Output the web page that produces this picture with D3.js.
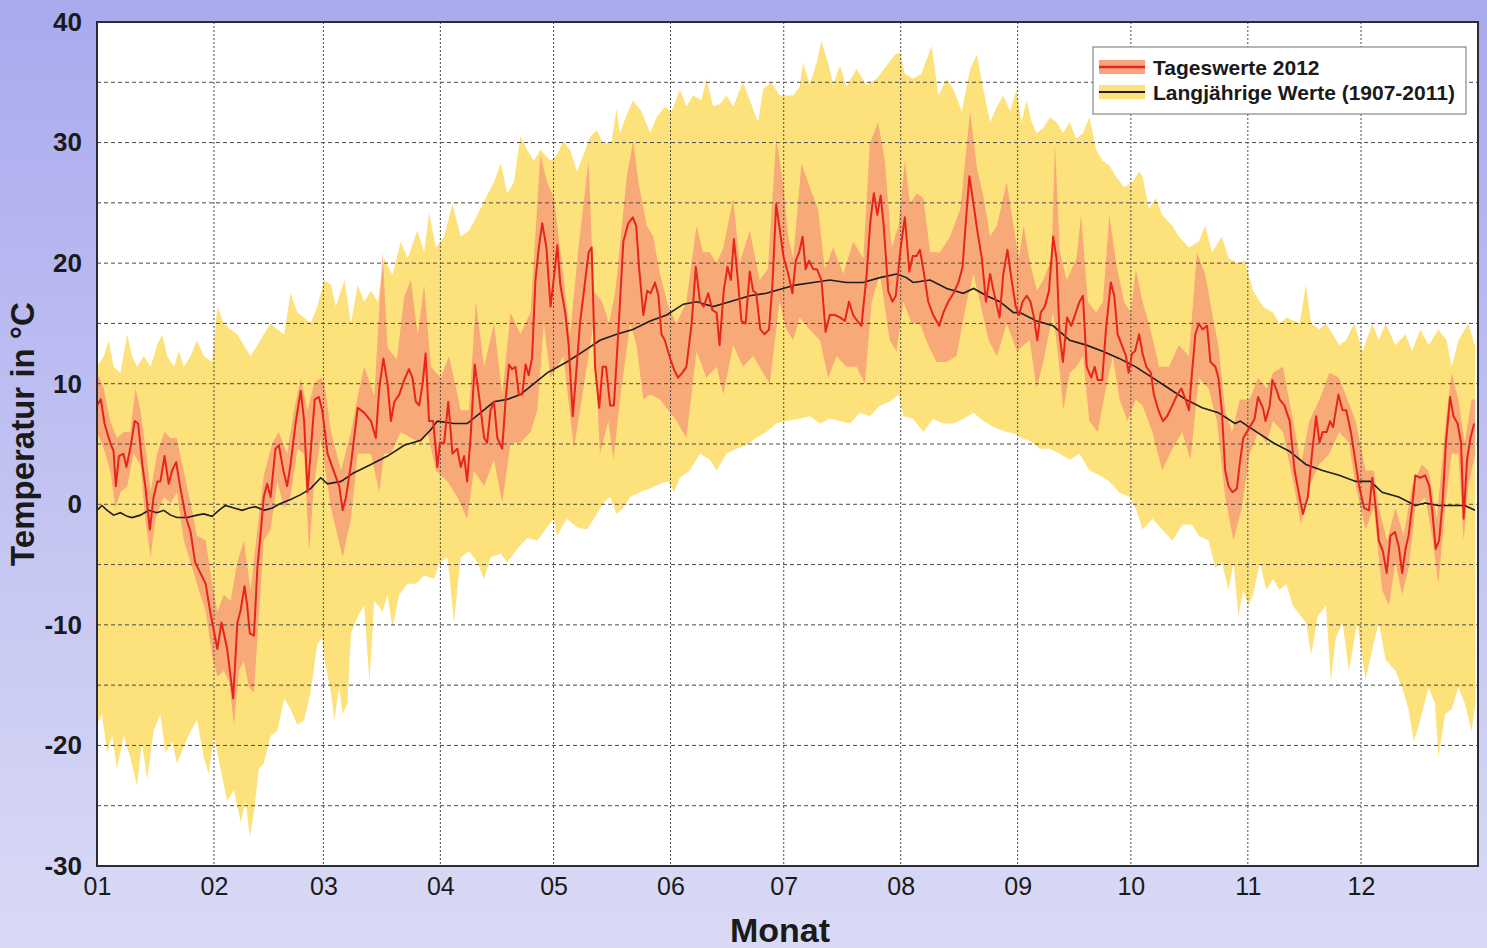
<!DOCTYPE html>
<html>
<head>
<meta charset="utf-8">
<script src="https://cdn.jsdelivr.net/npm/d3@7/dist/d3.min.js"></script>
<style>
    html, body { margin: 0; padding: 0; }
    body { width: 1487px; height: 948px; overflow: hidden; }
    svg { display: block; font-family: "Liberation Sans", Arial, sans-serif; }
</style>
</head>
<body>
<svg id="chart" width="1487" height="948"></svg>
<script>
// Month tick labels (ticks at the first day of each month, 2012 is a leap year)
const monthLabels = ["01", "02", "03", "04", "05", "06", "07", "08", "09", "10", "11", "12"];
const monthStartDays = [0, 31, 60, 91, 121, 152, 182, 213, 244, 274, 305, 335];
const yTickValues = [-30, -20, -10, 0, 10, 20, 30, 40];

// Tageswerte 2012: daily mean [day of year, °C]
const mean2012 = [
    [0,8.2],[1,8.7],[2,6.7],[3.5,5.1],[4.4,4.4],[5,1.5],[5.8,4.0],[7,4.2],[7.8,3.1],[8.8,4.6],[10,6.9],[10.9,6.7],
    [12,3.3],[12.8,1.5],[14,-2.1],[15,0.6],[16,1.9],[16.8,1.9],[17.9,4.0],[19,1.7],[19.9,2.8],[21,3.5],[22,1.5],
    [23.5,-1.0],[24.8,-2.3],[26,-4.8],[27.4,-5.7],[28.8,-6.6],[30,-8.9],[31.9,-12.0],[33,-9.8],[34.5,-12.0],
    [36.1,-16.1],[37.2,-9.8],[38,-8.9],[39.1,-6.8],[39.8,-8.4],[40.5,-10.7],[41.6,-10.9],[42.5,-5.3],[43.4,-2.3],
    [44.2,0.6],[45.1,1.7],[46,0.6],[47.3,4.6],[48.2,4.9],[49.4,2.8],[50.4,1.5],[51.3,3.3],[52.7,6.9],[54,9.4],
    [54.9,6.9],[55.8,1.0],[56.6,4.2],[57.7,8.7],[58.8,8.9],[59.7,7.8],[61.1,4.2],[62.9,2.6],[64.2,1.5],[65.1,-0.5],
    [66,0.6],[67.3,3.3],[69.1,8.0],[70.8,7.6],[72.6,6.9],[73.9,5.5],[74.8,9.6],[75.9,12.1],[77,10.0],[77.9,6.9],
    [78.8,8.5],[80.1,9.1],[81.4,10.3],[82.7,11.2],[83.6,10.5],[84.5,8.5],[85.4,8.2],[86.3,10.0],[87.1,12.5],[88,6.9],
    [89.1,6.9],[90.2,3.1],[90.9,5.1],[92,5.1],[93.1,8.5],[94.2,4.2],[95.5,4.6],[96.4,3.1],[97.3,4.0],[98.1,1.9],
    [99,5.5],[100.1,11.6],[101.2,9.1],[102.6,5.5],[103.4,5.1],[104.3,7.8],[105.2,8.5],[106.1,5.5],[107.4,4.6],
    [108.3,8.7],[109.2,11.6],[110,11.2],[110.9,11.4],[111.8,9.1],[112.7,9.1],[113.6,11.6],[114.4,10.7],[115.3,12.1],
    [116.2,18.6],[117.1,21.3],[118,23.3],[119.1,21.3],[120.2,16.4],[121.2,19.1],[122,21.5],[122.8,18.2],[124.1,15.9],
    [125,13.2],[126.1,7.3],[127,10.9],[128,15.0],[129.4,18.6],[130.3,20.9],[131.1,21.3],[132,11.4],[133.1,8.0],
    [134,11.4],[134.9,11.4],[136,8.2],[137,8.2],[138.2,14.5],[139.5,21.8],[140.8,23.3],[142,23.8],[142.9,23.1],
    [143.7,19.5],[144.8,15.7],[145.8,17.7],[146.7,17.5],[147.9,18.4],[148.8,17.3],[149.6,14.1],[150.5,13.6],
    [151.7,12.3],[152.9,11.2],[154,10.5],[155.1,10.9],[156.2,11.4],[157.6,15.0],[158.7,19.7],[159.8,16.8],
    [160.8,16.4],[162,17.5],[163.1,16.1],[164.2,15.9],[165,13.2],[166.1,17.7],[167.1,19.7],[168,18.6],[168.8,22.0],
    [169.7,19.1],[170.8,15.2],[171.9,15.0],[173,19.3],[173.9,17.7],[174.7,17.5],[175.8,14.5],[176.9,14.1],
    [178.1,14.5],[179,18.2],[180,24.9],[181,22.7],[181.9,20.6],[183.2,19.1],[184.3,17.5],[185.2,20.2],[186.1,20.9],
    [187,22.2],[187.8,19.5],[188.7,20.2],[189.8,19.5],[190.8,19.5],[192,18.6],[193.1,14.3],[194.2,15.7],[195.5,15.7],
    [196.9,15.5],[198.2,15.2],[199.3,16.8],[200.4,15.7],[201.5,15.2],[202.6,14.8],[203.9,18.8],[205,23.6],
    [205.9,25.8],[206.8,24.0],[207.7,25.6],[208.5,23.1],[209.7,17.7],[210.8,16.8],[211.7,17.3],[213,21.3],
    [214.1,23.8],[215.3,19.3],[216.2,20.6],[217.2,20.6],[218.1,21.1],[219.2,19.1],[220.3,16.8],[221.6,15.7],
    [223.2,14.8],[224.3,15.9],[225.6,16.8],[227,17.5],[228.3,18.4],[229.4,19.7],[230.3,23.6],[231.2,27.2],
    [232.3,24.9],[233.3,22.7],[234.5,20.4],[235.6,16.8],[236.7,19.1],[237.6,17.7],[239.2,15.5],[240.2,19.1],
    [241.3,21.1],[242.4,18.6],[243.5,16.4],[244.4,15.7],[245.3,16.8],[246.4,17.3],[247.4,16.8],[248.3,15.5],
    [249.2,13.6],[250.1,15.9],[251.2,16.4],[252.3,17.7],[253.4,22.2],[254.3,20.4],[255.1,14.1],[256,11.8],
    [257.1,15.5],[258.2,14.8],[259.4,15.9],[260.4,16.8],[261.3,17.3],[262.3,11.4],[263.5,10.5],[264.4,11.4],
    [265.2,10.3],[266.4,10.3],[267.4,14.5],[268.7,18.4],[269.6,17.3],[270.5,14.1],[271.6,13.2],[272.7,12.3],
    [273.4,10.9],[274.3,12.5],[275.1,12.7],[276.2,14.1],[277.1,12.5],[278.1,11.4],[279.3,10.9],[280.1,9.1],
    [281.3,7.8],[282.5,6.9],[283.6,7.3],[285,8.2],[286.3,9.1],[287.4,9.6],[288.5,8.7],[289.4,7.8],[290.2,10.9],
    [291.1,14.1],[292,15.0],[293,14.5],[294.2,14.8],[295.1,11.8],[296.4,11.4],[297.2,10.5],[298.1,7.8],[299,2.8],
    [299.9,1.5],[300.9,1.0],[302.1,1.3],[302.9,3.5],[303.8,5.5],[305.5,6.4],[306.8,7.1],[307.7,8.9],[309,8.0],
    [309.7,6.9],[310.8,8.2],[311.5,10.3],[312.5,9.6],[313.4,8.7],[314.7,8.2],[316.1,6.9],[317.4,2.8],[318.7,0.6],
    [319.6,-0.8],[320.9,0.6],[322,4.2],[323.1,7.3],[324,5.1],[324.8,6.0],[325.9,6.0],[326.8,6.9],[327.6,6.4],
    [329,9.1],[330.1,7.8],[331.1,7.8],[332.3,6.0],[333.2,4.2],[334.5,1.5],[335.8,-0.3],[337.1,-0.5],[338,2.2],
    [338.9,-0.3],[339.7,-3.0],[340.8,-3.9],[341.8,-5.7],[342.8,-2.6],[344,-2.3],[345,-3.5],[345.9,-5.7],[346.8,-3.7],
    [347.6,-2.6],[348.5,-0.3],[349.4,2.4],[350.7,2.2],[352,2.4],[353.1,1.5],[353.8,-0.3],[354.8,-3.7],[355.7,-3.0],
    [356.6,0.1],[357.5,5.1],[358.6,8.9],[359.5,7.3],[360.6,6.7],[361.5,5.1],[362.2,-1.2],[363.1,3.7],[364,5.5],
    [365,6.7]
];

// Tageswerte 2012: daily maximum and minimum (orange band)
const max2012 = [
    [0,10.9],[1.8,9.6],[3.5,6.9],[5.3,5.5],[7.1,6.0],[8.8,6.0],[10.2,9.6],[11.5,7.8],[13.3,3.7],[14.2,1.0],[15.9,4.2],
    [17.9,6.0],[19.5,5.5],[21.1,5.5],[22.6,3.3],[24.8,0.1],[26.5,-2.6],[28.8,-3.0],[30.1,-5.7],[31.9,-8.9],[33.6,-7.5],
    [35.4,-8.0],[37.2,-4.8],[38.9,-3.0],[40.7,-7.1],[42.5,-2.1],[44.2,2.4],[46.5,5.1],[48.2,6.0],[50.4,4.2],[52.2,7.8],
    [54,10.5],[55.8,7.8],[57.5,10.0],[59.3,10.5],[60.3,10.0],[62,6.0],[64.7,2.8],[67.3,6.0],[69.1,9.0],[70.8,11.4],
    [73.5,9.0],[75.7,21.0],[77,13.0],[79.5,12.0],[81.4,17.2],[83.2,18.6],[85,14.0],[86.7,18.2],[88.5,11.4],[91.1,10.5],
    [93.3,12.3],[96.4,7.8],[98.6,7.8],[100.4,16.8],[102.6,11.4],[105.2,15.0],[107.4,9.1],[109.6,15.9],[112.2,14.1],
    [114.9,15.9],[117.5,29.0],[119.3,26.7],[121.1,25.4],[122.7,21.3],[125.4,14.1],[127.6,21.3],[130.3,28.5],
    [131.6,17.7],[133.9,16.8],[135.7,15.0],[137.4,17.7],[140.4,27.2],[142.1,30.1],[143.5,26.7],[145.7,23.1],
    [147.4,22.2],[149.2,19.1],[151.4,16.4],[153.6,15.0],[156.2,16.8],[158.9,23.1],[160.6,20.9],[162.4,20.9],
    [164.2,20.0],[166,21.3],[168.6,25.4],[170.3,20.0],[173,22.7],[175.6,18.6],[177.8,19.5],[180,30.3],[181.8,26.7],
    [183.2,22.2],[184.5,20.4],[186.7,28.3],[188.9,26.3],[191.1,24.5],[192.9,19.5],[195.1,21.3],[197.8,19.1],
    [200.4,21.8],[203.1,20.4],[204.8,29.9],[207,31.7],[208.8,28.5],[210.6,21.3],[212.4,23.1],[214.1,28.5],
    [215.5,24.9],[217.2,25.8],[219,25.4],[220.8,20.9],[223.4,20.9],[226.1,22.2],[228.8,24.5],[231.4,32.6],
    [233.2,27.9],[235,25.4],[236.7,22.2],[238.5,23.1],[241.1,26.7],[242.9,23.1],[244.3,20.4],[245.6,23.1],
    [247.3,20.0],[249.1,17.7],[250.8,18.6],[253,20.4],[253.9,29.9],[255.2,20.9],[257,18.6],[259.6,20.4],[260.8,24.0],
    [262.6,16.8],[264.8,15.9],[266.6,16.8],[268.3,24.0],[270.1,20.0],[272.2,16.8],[274,15.9],[275.3,19.5],
    [277.1,16.8],[278.8,15.0],[281.5,11.4],[284.1,11.4],[286.7,13.2],[289.4,12.3],[291.5,20.9],[293.7,19.1],
    [295.5,15.9],[297.2,13.2],[299,7.8],[300.8,6.0],[302.9,8.7],[305.5,8.7],[307.7,10.5],[310,9.6],[311.7,10.9],
    [314.3,11.4],[317,6.9],[319.1,3.3],[321.3,6.9],[324,8.7],[326.6,10.9],[329.2,10.5],[331.4,8.7],[333.6,6.9],
    [336.2,2.8],[338.4,2.8],[339.7,-0.3],[341.9,-3.0],[344.1,-0.3],[346.3,-2.6],[348.5,1.5],[351.1,3.3],[352.9,2.8],
    [355.1,-1.2],[357.3,6.4],[359,10.9],[360.8,8.7],[362.5,5.1],[364.3,8.7],[365.3,8.7]
];
const min2012 = [
    [0,6.0],[1.8,4.6],[3.5,2.8],[4.9,-0.3],[6.2,1.0],[8,1.5],[9.7,4.2],[11.5,3.3],[12.8,-1.2],[14.2,-4.4],[15.5,-1.2],
    [17.7,0.6],[19.5,0.1],[21.2,1.0],[23,-3.0],[24.8,-4.8],[26.5,-6.6],[28.8,-8.9],[30.5,-12.5],[31.9,-14.3],
    [33.6,-13.8],[35,-14.7],[36.3,-18.3],[37.6,-13.8],[38.9,-13.0],[40.3,-15.2],[41.6,-15.6],[42.9,-9.3],[44.2,-3.0],
    [46,-2.1],[47.8,1.9],[49.6,-0.3],[51.3,0.6],[53.1,4.6],[54.9,4.2],[56.2,-3.9],[57.5,1.5],[59.3,5.5],[62,-0.3],
    [65.1,-4.4],[67.3,-1.2],[69.1,4.2],[72.6,4.2],[74.8,1.0],[76.1,4.2],[77.9,4.2],[80.5,6.0],[83.2,5.5],[85.8,5.1],
    [87.6,6.0],[89.8,2.8],[92.9,1.9],[95.5,0.6],[98.1,-1.2],[99.9,2.8],[102.6,1.5],[105.2,3.7],[107.4,0.1],[109.6,5.1],
    [112.2,5.1],[114.9,6.0],[116.7,7.8],[118.4,15.0],[120.2,10.5],[122,11.4],[123.6,12.3],[126.4,4.6],[128.9,9.6],
    [131.6,15.0],[133.3,4.2],[135.5,6.9],[136.9,3.7],[138.6,8.7],[141.3,15.0],[143,13.2],[144.8,8.7],[146.6,9.1],
    [149.2,8.7],[151.4,7.8],[153.6,6.9],[156.2,5.5],[158.9,12.7],[161.5,10.5],[164.2,11.4],[166,9.1],[168.6,13.2],
    [171.2,11.4],[173.9,12.3],[176.5,10.9],[178.3,10.0],[180.9,16.8],[182.7,14.5],[184.5,13.6],[186.2,15.5],
    [188.9,14.5],[191.6,13.6],[193.8,10.5],[196,12.3],[198.6,11.4],[201.3,11.4],[203.5,10.0],[205.3,16.8],
    [207.5,19.1],[210.1,13.6],[211.9,12.7],[213.7,16.8],[215.9,15.0],[218.1,15.0],[220.3,13.2],[222.5,11.8],
    [225.2,11.8],[227.8,12.3],[230.5,16.8],[232.3,19.1],[234,16.8],[236.3,13.6],[238.5,12.3],[241.1,15.0],
    [243.8,12.7],[245.5,13.2],[247.2,13.6],[249,9.6],[250.8,11.8],[253.4,15.9],[255.2,10.9],[256.1,7.8],[257.8,10.9],
    [259.6,11.4],[261.3,12.3],[263,6.9],[265.2,6.0],[267.4,9.6],[269.2,12.3],[271,8.7],[273.1,6.9],[275.3,8.7],
    [277.1,8.2],[279.7,6.0],[282.3,2.8],[285,4.6],[287.6,6.0],[289.8,3.7],[292,10.5],[294.6,9.6],[296.8,6.9],
    [299,0.6],[301.2,-3.0],[303.4,-0.3],[305.5,4.2],[307.7,6.0],[309.9,5.1],[311.7,6.9],[314.3,6.0],[317,1.9],
    [319.1,-1.7],[321.3,1.5],[323.9,3.3],[326.6,4.2],[329.2,6.0],[331.8,5.1],[333.6,1.5],[336.2,-2.1],[338.4,-0.3],
    [340.6,-7.1],[342.4,-8.4],[344.1,-4.8],[345.9,-7.5],[347.6,-5.3],[349.4,-0.3],[352,0.6],[353.8,-2.6],
    [355.5,-6.6],[357.3,-0.3],[359,4.2],[360.8,4.2],[362.2,-3.0],[363.4,1.5],[365.3,4.2]
];

// Langjährige Werte 1907-2011: mean, absolute maximum and minimum
const meanLongTerm = [
    [0,-0.5],[1.3,-0.1],[2.7,-0.5],[4.4,-0.9],[6.2,-0.7],[8,-1.0],[9.3,-1.1],[11.5,-0.9],[13.7,-0.5],[15.9,-0.7],
    [17.7,-0.5],[19.5,-0.9],[21.2,-1.1],[23.9,-1.1],[26.5,-0.9],[28.3,-0.8],[30.5,-1.0],[32.3,-0.5],[34,-0.1],
    [36.3,-0.3],[38.5,-0.5],[40.3,-0.3],[42,-0.2],[44.2,-0.5],[46.5,-0.3],[48.2,0.0],[51.3,0.4],[54,0.8],[56.6,1.3],
    [59.3,2.2],[61.1,1.7],[64.7,1.9],[68,2.6],[72.6,3.3],[77,4.0],[81.4,4.9],[85.8,5.3],[88.5,6.2],[90.2,6.9],
    [94.6,6.7],[98.1,6.7],[101.7,7.6],[105.2,8.5],[108.7,8.7],[112.2,9.1],[115.8,10.0],[119.3,10.9],[124.5,11.8],
    [129,12.7],[133.3,13.6],[137.7,14.1],[142,14.5],[146.6,15.2],[151,15.7],[155.4,16.6],[158.9,16.8],[163.3,16.4],
    [167.7,16.8],[173,17.3],[177.4,17.5],[181.8,17.9],[185.4,18.2],[189.8,18.4],[194.2,18.6],[198.6,18.4],
    [203,18.4],[207.5,18.8],[211.9,19.1],[214.5,18.8],[216.3,18.4],[220.8,18.6],[225.2,17.9],[229.6,17.5],
    [232.3,17.9],[235.8,17.3],[239.3,16.8],[242.9,15.9],[244.6,15.9],[249,15.2],[253.4,14.8],[257.8,13.6],
    [262.2,13.2],[266.5,12.7],[270.9,12.1],[275.3,11.4],[279.7,10.5],[284.1,9.6],[288.5,8.7],[292.9,8.0],
    [297.2,7.6],[301.6,6.7],[303,6.9],[307.3,6.0],[311.7,5.1],[316,4.4],[320.4,3.3],[324.8,2.8],[329.2,2.4],
    [333.6,1.9],[337.5,1.9],[340.6,1.0],[345,0.6],[349.4,-0.1],[352,0.1],[355.5,-0.1],[359,-0.1],[362.5,-0.1],
    [365.2,-0.5]
];
const maxLongTerm = [
    [0,11.4],[1.8,12.3],[3.1,13.6],[4.4,11.4],[6.2,10.9],[8,14.1],[9.3,12.3],[10.6,11.4],[12.4,12.3],[14.2,11.4],
    [15.9,13.2],[17.3,14.1],[18.6,12.3],[20.4,11.4],[21.7,12.7],[23,11.4],[24.8,12.3],[26.5,13.6],[28.3,12.3],
    [30.5,11.8],[31.9,16.4],[33.6,15.0],[35.4,14.5],[37.2,14.1],[38.9,13.2],[40.7,12.3],[42.5,13.2],[44.2,14.1],
    [46,15.0],[47.8,14.5],[49.6,14.1],[51.3,17.5],[53.1,15.9],[54.9,15.5],[56.6,15.0],[58.4,16.4],[60.2,18.6],
    [62,18.2],[63.3,16.4],[65.6,18.6],[67.3,15.0],[69.1,18.2],[70.8,16.8],[72.6,17.7],[74.4,16.8],[76.1,20.4],
    [78.3,19.0],[80.5,21.8],[82.3,20.4],[84.9,22.7],[86.7,20.9],[88,24.2],[89.8,21.3],[92,22.2],[94.2,24.9],
    [96.4,22.2],[98.6,22.7],[100.8,24.0],[103,25.4],[105.2,26.7],[107,28.3],[108.7,25.8],[110.5,26.7],[112.2,30.5],
    [114,29.4],[115.8,28.5],[117.5,29.4],[120.2,28.5],[121.9,29.0],[123.6,30.1],[125.4,29.4],[127.2,27.6],
    [128.9,29.0],[130.7,30.5],[132.5,31.0],[134.2,29.9],[136.4,30.1],[137.7,32.8],[138.6,30.8],[140.4,32.3],
    [142.1,33.5],[144.3,32.6],[146.6,30.8],[148.3,32.1],[150.5,33.0],[152.3,32.6],[154.5,34.4],[156.2,33.0],
    [158,33.9],[160.2,33.5],[161.5,35.3],[163.3,33.0],[165.1,33.2],[166.8,33.9],[168.6,33.0],[171.2,35.0],
    [173,33.5],[175.2,31.7],[176.5,34.4],[178.7,35.0],[180.9,33.9],[182.7,33.9],[184.5,33.9],[186.2,34.6],
    [187.1,36.6],[188.9,34.8],[190.7,36.6],[192,38.4],[193.8,36.6],[195.1,34.8],[196.9,36.4],[198.6,34.6],
    [201.3,36.1],[203.9,34.8],[206.6,35.3],[209.3,36.4],[211.5,37.3],[212.8,37.5],[214.1,35.7],[216.3,35.3],
    [218.5,35.7],[221.2,38.0],[223,33.9],[225.2,35.3],[227,34.4],[229.2,32.6],[231.4,36.1],[233.2,37.3],
    [234.9,34.4],[236.7,31.7],[238.5,33.0],[240.2,33.9],[242,32.6],[243.7,34.4],[245,31.7],[246.4,33.5],
    [247.7,31.7],[249,30.8],[250.8,31.2],[252.5,32.1],[254.3,31.7],[256,30.8],[257.8,31.7],[259.5,30.3],
    [261.3,30.8],[263,32.1],[264.8,29.4],[266.5,28.5],[268.3,28.1],[270,27.2],[272.2,26.3],[274.4,26.7],
    [276.2,27.6],[277.1,27.2],[278.8,24.5],[280.6,25.4],[282.3,24.0],[285,23.1],[286.7,22.2],[289.4,21.3],
    [292,21.8],[293.7,23.1],[295.5,20.9],[298.1,22.2],[299.9,20.4],[302.5,20.0],[304.2,20.2],[306.4,17.7],
    [309,16.4],[311.7,15.9],[313.4,15.0],[315.2,15.5],[318.7,15.0],[320.4,18.2],[321.8,15.0],[323.9,14.5],
    [325.7,15.0],[327.5,14.1],[329.2,13.2],[331,13.6],[333.2,15.0],[335.4,12.7],[338,15.0],[339.7,13.6],
    [341.5,15.0],[344.1,13.2],[346.8,14.1],[348.5,12.7],[350.7,14.5],[352.9,13.2],[355.5,14.5],[357.7,13.6],
    [359,11.4],[360.8,13.6],[363.4,15.0],[365.2,13.2]
];
const minLongTerm = [
    [0,-18.3],[1.3,-17.4],[2.7,-20.6],[4,-19.2],[5.3,-21.9],[7.1,-19.2],[8.8,-21.0],[10.6,-23.3],[11.9,-19.7],
    [13.3,-22.8],[15,-18.8],[16.8,-17.4],[18.1,-20.6],[19.9,-19.7],[21.2,-21.5],[23,-20.1],[24.8,-18.8],
    [26.5,-17.9],[28.3,-21.0],[29.6,-22.4],[31,-19.2],[32.7,-21.9],[34.5,-24.6],[36.3,-23.7],[38.1,-26.4],
    [39.4,-24.6],[40.5,-27.6],[41.6,-25.5],[42.9,-21.9],[44.2,-21.5],[46,-19.2],[47.8,-18.8],[49.6,-16.1],
    [51.3,-17.0],[53.1,-18.3],[54.9,-17.9],[56.6,-15.6],[58.4,-11.6],[59.7,-11.1],[60.3,-12.9],[62,-15.6],
    [62.9,-17.9],[64.2,-15.2],[65.1,-17.4],[66.4,-16.5],[67.3,-10.7],[69.1,-9.3],[70.8,-8.4],[72.2,-14.7],
    [73.5,-8.0],[75.7,-8.9],[77,-7.5],[78.3,-10.2],[80.1,-7.5],[82.3,-6.6],[84.5,-6.6],[86.7,-5.9],[89.3,-6.2],
    [90.9,-4.8],[92.9,-4.4],[94.6,-9.8],[96.4,-4.4],[98.6,-3.9],[100.8,-4.8],[102.6,-6.2],[104.3,-4.4],[107,-4.1],
    [108.7,-4.8],[111.4,-3.7],[114,-2.8],[116.7,-3.0],[119.3,-1.9],[121.1,-1.2],[121.9,-2.6],[124.5,-1.2],
    [127.2,-1.9],[129.8,-2.1],[132.5,-0.8],[134.2,0.1],[136,0.6],[137.7,-0.8],[139.5,-0.3],[141.3,0.6],[143.9,1.0],
    [146.6,1.3],[149.2,1.7],[151.4,1.9],[152.9,1.0],[154.5,2.2],[157.1,2.8],[159.8,4.2],[162.4,3.7],[164.2,2.8],
    [166.8,4.2],[169.5,4.6],[172.1,4.9],[174.7,5.5],[177.4,6.0],[180,6.7],[182.7,6.9],[186.2,7.1],[188.9,7.3],
    [191.6,6.7],[194.2,7.1],[196.9,6.9],[199.5,6.7],[202.2,7.6],[204.8,7.3],[207.5,8.2],[210.1,8.5],[212.4,9.1],
    [213.7,7.3],[216.3,7.1],[219,6.0],[221.6,7.1],[224.3,6.7],[227,6.7],[229.6,7.1],[232.3,7.6],[234.9,6.9],
    [237.6,6.4],[241.1,6.0],[243.8,5.8],[244.6,5.5],[247.2,5.3],[249.9,4.6],[252.5,4.6],[255.1,4.2],[257.8,3.7],
    [260.4,4.2],[263,2.8],[265.7,2.4],[268.3,1.9],[270.9,1.0],[273.6,0.6],[275.3,-0.3],[277.1,-2.1],[279.7,-1.2],
    [282.3,-2.1],[285,-3.0],[287.6,-1.7],[290.2,-1.7],[292,-2.6],[294.6,-3.0],[296.4,-5.3],[298.1,-4.8],
    [299.9,-7.1],[301.2,-4.8],[302.5,-9.3],[303.8,-7.1],[305.1,-8.4],[306.4,-7.5],[308.2,-4.8],[309.9,-7.1],
    [311.7,-6.2],[313.4,-7.1],[315.2,-6.6],[316.9,-8.4],[319.1,-9.3],[320.4,-9.8],[321.8,-12.5],[323.5,-9.3],
    [325.7,-8.4],[327,-14.7],[328.3,-11.1],[330.1,-9.8],[331.8,-13.8],[334,-9.8],[336.2,-14.6],[338,-12.0],
    [339.7,-9.8],[341.5,-12.9],[344.1,-13.8],[345.9,-15.2],[347.6,-17.0],[349,-19.7],[350.7,-17.9],[352.9,-15.2],
    [354.6,-16.5],[355.5,-21.0],[357.3,-17.4],[359,-17.0],[360.8,-15.2],[362.5,-16.5],[364.3,-18.8],[365.3,-16.5]
];

// Layout
const width = 1487, height = 948;
const margin = { top: 22, right: 9, bottom: 82, left: 97 };
const plotW = width - margin.left - margin.right;
const plotH = height - margin.top - margin.bottom;
const fontFamily = "'Liberation Sans', Arial, sans-serif";

const svg = d3.select("#chart");

// Background gradient
const defs = svg.append("defs");
const bg = defs.append("linearGradient")
    .attr("id", "bg")
    .attr("x1", 0).attr("y1", 0).attr("x2", 0).attr("y2", 1);
bg.append("stop").attr("offset", "0%").attr("stop-color", "#a9aaee");
bg.append("stop").attr("offset", "100%").attr("stop-color", "#dadaf6");

defs.append("clipPath").attr("id", "plot-clip")
    .append("rect").attr("width", plotW).attr("height", plotH);

svg.append("rect")
    .attr("width", width)
    .attr("height", height)
    .attr("fill", "url(#bg)");

// Scales
const x = d3.scaleLinear().domain([0, 366]).range([0, plotW]);
const y = d3.scaleLinear().domain([-30, 40]).range([plotH, 0]);

const g = svg.append("g")
    .attr("transform", `translate(${margin.left},${margin.top})`);

g.append("rect")
    .attr("width", plotW)
    .attr("height", plotH)
    .attr("fill", "#ffffff");

const plot = g.append("g").attr("clip-path", "url(#plot-clip)");

const line = d3.line()
    .x(d => x(d[0]))
    .y(d => y(d[1]));

// Band between an upper and a lower series (different sample days)
function bandPath(upper, lower) {
    return line(upper.concat(lower.slice().reverse())) + "Z";
}

// Long-term extremes (yellow)
plot.append("path")
    .attr("d", bandPath(maxLongTerm, minLongTerm))
    .attr("fill", "#fde27c");

// 2012 daily range (orange, semi-transparent)
plot.append("path")
    .attr("d", bandPath(max2012, min2012))
    .attr("fill", "rgb(240,100,115)")
    .attr("fill-opacity", 0.45);

// Grid
const grid = plot.append("g").attr("class", "grid");
grid.selectAll("line.h")
    .data(d3.range(-25, 40, 5))
    .join("line")
    .attr("class", "h")
    .attr("x1", 0).attr("x2", plotW)
    .attr("y1", d => y(d)).attr("y2", d => y(d))
    .attr("stroke", "#4a4a4a")
    .attr("stroke-width", 1)
    .attr("stroke-dasharray", "4,3");

grid.selectAll("line.v")
    .data(monthStartDays.slice(1))
    .join("line")
    .attr("class", "v")
    .attr("x1", d => x(d)).attr("x2", d => x(d))
    .attr("y1", 0).attr("y2", plotH)
    .attr("stroke", "#4a4a4a")
    .attr("stroke-width", 1)
    .attr("stroke-dasharray", "2,2");

// Lines
plot.append("path")
    .datum(meanLongTerm)
    .attr("d", line)
    .attr("fill", "none")
    .attr("stroke", "#1e1e1e")
    .attr("stroke-width", 1.6);

plot.append("path")
    .datum(mean2012)
    .attr("d", line)
    .attr("fill", "none")
    .attr("stroke", "#e8251c")
    .attr("stroke-width", 2)
    .attr("stroke-linejoin", "round");

// Frame
g.append("rect")
    .attr("width", plotW)
    .attr("height", plotH)
    .attr("fill", "none")
    .attr("stroke", "#2b2b3a")
    .attr("stroke-width", 2);

// Y axis labels (plain hyphen for negatives, as in the original)
const yAxis = g.append("g")
    .call(d3.axisLeft(y).tickValues(yTickValues).tickFormat(d => String(d)).tickSize(0).tickPadding(15));
yAxis.select(".domain").remove();
yAxis.selectAll("text")
    .attr("fill", "#1a1a1a")
    .style("font-size", "26px")
    .style("font-weight", "bold")
    .style("font-family", fontFamily);

// X axis labels
const xAxis = g.append("g")
    .attr("transform", `translate(0,${plotH})`)
    .call(d3.axisBottom(x).tickValues(monthStartDays).tickFormat((d, i) => monthLabels[i]).tickSize(0).tickPadding(11));
xAxis.select(".domain").remove();
xAxis.selectAll("text")
    .attr("fill", "#1a1a1a")
    .style("font-size", "25px")
    .style("font-family", fontFamily);

// Axis titles
svg.append("text")
    .attr("transform", `translate(34,434) rotate(-90)`)
    .attr("text-anchor", "middle")
    .attr("fill", "#1a1a1a")
    .style("font-size", "33px")
    .style("font-weight", "bold")
    .text("Temperatur in °C");

svg.append("text")
    .attr("x", 780)
    .attr("y", 942)
    .attr("text-anchor", "middle")
    .attr("fill", "#1a1a1a")
    .style("font-size", "34px")
    .style("font-weight", "bold")
    .text("Monat");

// Legend
const legend = svg.append("g").attr("transform", "translate(1093,47)");
legend.append("rect")
    .attr("width", 373)
    .attr("height", 67)
    .attr("fill", "#ffffff")
    .attr("stroke", "#888888")
    .attr("stroke-width", 1.2);

const legendItems = [
    { label: "Tageswerte 2012", band: "#f7a37f", line: "#e8251c", lw: 2.5 },
    { label: "Langjährige Werte (1907-2011)", band: "#fde27c", line: "#1e1e1e", lw: 2.2 }
];
const item = legend.selectAll("g.item")
    .data(legendItems)
    .join("g")
    .attr("class", "item")
    .attr("transform", (d, i) => `translate(6,${20 + i * 25})`);
item.append("rect")
    .attr("x", 0).attr("y", -7)
    .attr("width", 46).attr("height", 14)
    .attr("fill", d => d.band);
item.append("line")
    .attr("x1", 0).attr("x2", 46)
    .attr("stroke", d => d.line)
    .attr("stroke-width", d => d.lw);
item.append("text")
    .attr("x", 54)
    .attr("y", 7.5)
    .attr("fill", "#1a1a1a")
    .style("font-size", "21px")
    .style("font-weight", "bold")
    .text(d => d.label);
</script>
</body>
</html>
